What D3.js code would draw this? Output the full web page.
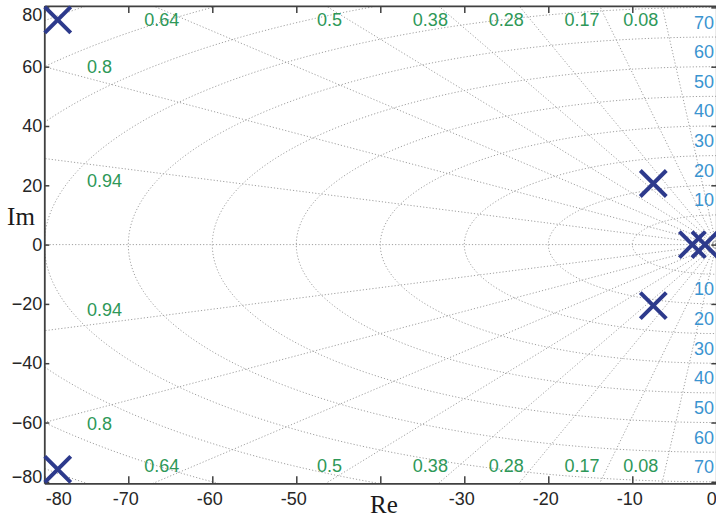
<!DOCTYPE html>
<html><head><meta charset="utf-8">
<script src="https://cdn.jsdelivr.net/npm/d3@7"></script>
<style>body{margin:0;background:#fff}svg{display:block}</style>
</head><body><svg id="c" width="716" height="519"></svg>
<script>
// ---- data ----
const xTicks = [-80,-70,-60,-50,-40,-30,-20,-10,0];
const xTickLabels = ["-80","-70","-60","-50","","-30","-20","-10","0"];
const yTicks = [-80,-60,-40,-20,0,20,40,60,80];
const zetaValues = [0.94,0.8,0.64,0.5,0.38,0.28,0.17,0.08];
const zetaLabels = ["0.94","0.8","0.64","0.5","0.38","0.28","0.17","0.08"];
const wnValues = [10,20,30,40,50,60,70,80,90,100,110];
const wnLabels = ["10","20","30","40","50","60","70"];
const poleRe = [-78.4,-78.4,-7.5,-7.5,-2.85,-1.35];
const poleIm = [75.8,-75.8,20.6,-20.6,0,0];

// ---- layout ----
const x = d3.scaleLinear().domain([-80,0]).range([44.3,716.3]);
const y = d3.scaleLinear().domain([-80.5,80.5]).range([483.3,5.9]);
const svg = d3.select('#c');
const FONT = '"Liberation Sans", Arial, Helvetica, sans-serif';
const GREEN = '#2e9858', BLUE = '#3a94d0', NAVY = '#2d3a8c', AX = '#404040';

svg.append('defs').append('clipPath').attr('id','clip').append('rect')
  .attr('x',x(-80)).attr('y',y(80.5)).attr('width',x(0)-x(-80)).attr('height',y(-80.5)-y(80.5));

const grid = svg.append('g').attr('clip-path','url(#clip)')
  .attr('fill','none').attr('stroke','#a0a0a0').attr('stroke-width',1).attr('stroke-dasharray','1.2,2');
const line = d3.line().x(d=>x(d[0])).y(d=>y(d[1]));

// frequency circles (left half)
wnValues.forEach(r=>{
  const pts = d3.range(90,270.01,1).map(a=>[r*Math.cos(a*Math.PI/180), r*Math.sin(a*Math.PI/180)]);
  grid.append('path').attr('d',line(pts));
});
// damping rays
const R = 400;
zetaValues.forEach(z=>{
  const s = Math.sqrt(1-z*z);
  grid.append('path').attr('d',line([[0,0],[-R*z,R*s]]));
  grid.append('path').attr('d',line([[0,0],[-R*z,-R*s]]));
});
grid.append('path').attr('d',line([[0,0],[-R,0]]));

// damping labels
const lab = svg.append('g').attr('font-family',FONT).attr('font-size',18).attr('fill',GREEN);
const leftDy = {0.94:17, 0.8:-10.5};
zetaValues.forEach((z,i)=>{
  const s = Math.sqrt(1-z*z);
  const slope = s/z; // im per |re|
  const imAtLeft = 80*slope;
  if (imAtLeft < 80) {
    const px = 87;
    const reAt = x.invert(px);
    const imAt = -reAt*slope;
    const pyTop = y(imAt) + leftDy[z];
    const pyBot = y(-imAt) - leftDy[z] + 2;
    [pyTop,pyBot].forEach(py=>lab.append('text').attr('x',px).attr('y',py)
      .attr('dominant-baseline','central').attr('text-anchor','start').text(zetaLabels[i]));
  } else {
    [[20, 20],[466, 469.2]].forEach(([py,pyRay])=>{
      const imAt = Math.abs(y.invert(pyRay));
      const reAt = -imAt/slope;
      lab.append('text').attr('x',x(reAt)-7).attr('y',py)
        .attr('dominant-baseline','central').attr('text-anchor','end').text(zetaLabels[i]);
    });
  }
});

// frequency labels
const wl = svg.append('g').attr('font-family',FONT).attr('font-size',18).attr('fill',BLUE);
wnLabels.forEach((t,i)=>{
  const r = wnValues[i];
  wl.append('text').attr('x',714).attr('y',y(r)-14.5).attr('text-anchor','end')
    .attr('dominant-baseline','central').text(t);
  wl.append('text').attr('x',714).attr('y',y(-r)+15).attr('text-anchor','end')
    .attr('dominant-baseline','central').text(t);
});

// axes
function styleAxis(g){
  g.select('.domain').attr('stroke',AX).attr('stroke-width',1.8);
  g.selectAll('.tick line').attr('stroke',AX).attr('stroke-width',1.5);
  g.selectAll('.tick text').attr('fill','#262626').attr('font-family',FONT).attr('font-size',18);
}
const gb = svg.append('g').attr('transform',`translate(0,${y(-80.5)})`)
  .call(d3.axisBottom(x).tickValues(xTicks).tickFormat((d,i)=>xTickLabels[i])
    .tickSizeInner(-7).tickSizeOuter(0).tickPadding(8.5));
styleAxis(gb);
gb.selectAll('.tick text').attr('x',d=>d===-80?14:(d===0?-5:-3));
const gt = svg.append('g').attr('transform',`translate(0,${y(80.5)})`)
  .call(d3.axisTop(x).tickValues(xTicks).tickSizeInner(-7).tickSizeOuter(0).tickFormat(''));
styleAxis(gt);
const gl = svg.append('g').attr('transform',`translate(${x(-80)},0)`)
  .call(d3.axisLeft(y).tickValues(yTicks).tickSizeInner(-5).tickSizeOuter(0).tickPadding(2));
styleAxis(gl);
gl.selectAll('.tick text').attr('y',d=>d===80?7.6:(d===-80?-5:0));
const gr = svg.append('g').attr('transform',`translate(${x(0)},0)`)
  .call(d3.axisRight(y).tickValues(yTicks).tickSizeInner(-5).tickSizeOuter(0).tickFormat(''));
styleAxis(gr);

// axis titles
svg.append('text').attr('x',21).attr('y',225).attr('text-anchor','middle')
  .attr('font-family','"Liberation Serif", "Times New Roman", serif').attr('font-size',25).attr('fill','#1a1a1a').text('Im');
svg.append('text').attr('x',384).attr('y',513).attr('text-anchor','middle')
  .attr('font-family','"Liberation Serif", "Times New Roman", serif').attr('font-size',25).attr('fill','#1a1a1a').text('Re');

// poles
svg.append('g').selectAll('path').data(poleRe.map((re,i)=>[re,poleIm[i]])).join('path')
  .attr('transform',d=>`translate(${x(d[0])},${y(d[1])})`)
  .attr('d','M-13,-13L13,13M-13,13L13,-13')
  .attr('fill','none').attr('stroke',NAVY).attr('stroke-width',4);
</script></body></html>
